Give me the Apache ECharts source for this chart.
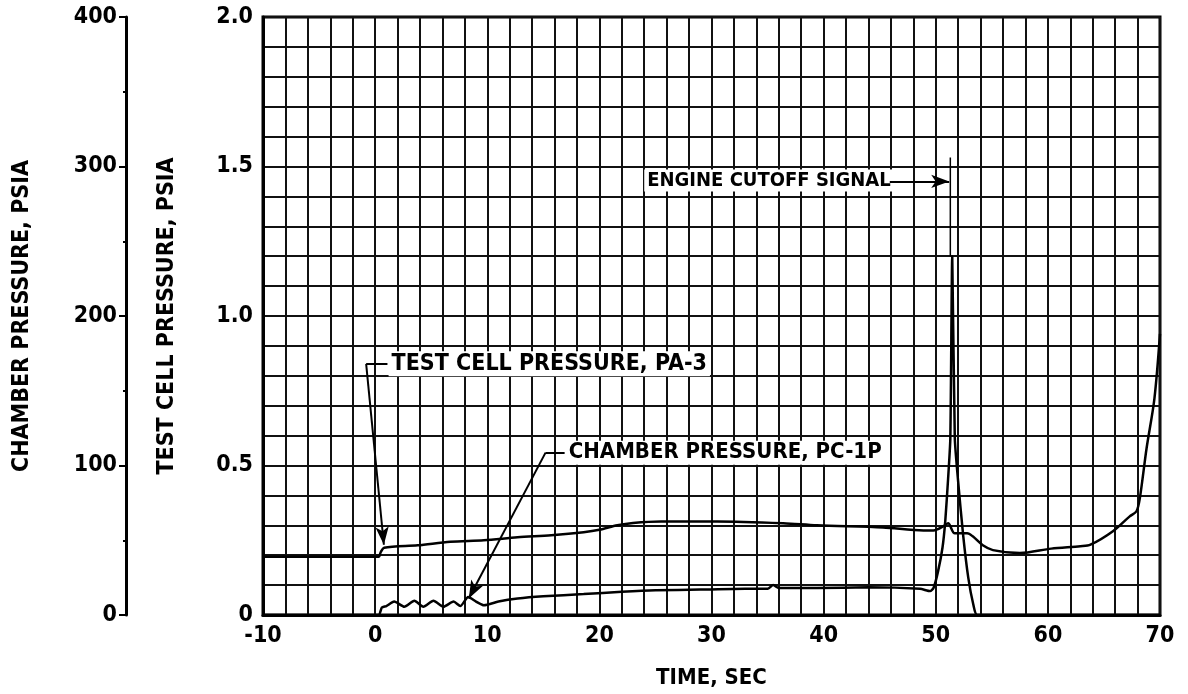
<!DOCTYPE html>
<html>
<head>
<meta charset="utf-8">
<script src="https://cdn.jsdelivr.net/npm/echarts@6/dist/echarts.min.js"></script>
<style>
  html, body { margin: 0; padding: 0; background: #fff; }
  #chart { width: 1188px; height: 694px; }
</style>
</head>
<body>
<div id="chart"></div>
<script>
// time axis, seconds
const timeTicks = [-10, 0, 10, 20, 30, 40, 50, 60, 70];
const cellTicks = ['0', '0.5', '1.0', '1.5', '2.0'];
const chamberTicks = [0, 100, 200, 300, 400];

// test cell pressure, PA-3 (psia, inner axis) as [time, value]
const testCellTime = [-10, 0.3, 0.5, 0.8, 3.8, 6.7, 9.7, 12.7, 15.7, 18.6, 20, 21.6, 23, 25.5, 30.5, 36.4, 39.4, 45.3, 48.9, 49.8, 50.7, 51.1, 51.7, 52.8, 53.3, 54.2, 55.1, 57.5, 60.3, 62.9, 63.8, 65.8, 67.3, 67.9, 68.2, 68.8, 69.5, 70];
const testCellPsia = [0.195, 0.195, 0.21, 0.225, 0.233, 0.245, 0.25, 0.26, 0.267, 0.277, 0.285, 0.3, 0.308, 0.313, 0.313, 0.307, 0.3, 0.293, 0.283, 0.283, 0.297, 0.307, 0.273, 0.273, 0.263, 0.233, 0.217, 0.207, 0.222, 0.23, 0.235, 0.28, 0.33, 0.347, 0.39, 0.557, 0.723, 0.94];

// chamber pressure, PC-1P (psia, outer axis)
const chamberTime = [-10, 0.3, 0.6, 1.0, 1.7, 2.6, 3.5, 4.3, 5.2, 6.1, 7.0, 7.6, 8.3, 9.0, 9.7, 11, 12.7, 15, 18.6, 22, 25, 29, 33, 35, 35.5, 36, 39.4, 44, 48.6, 49.5, 49.8, 50.2, 50.6, 50.85, 51.1, 51.3, 51.47, 51.7, 52.0, 52.45, 52.9, 53.35, 53.7, 70];
const chamberPsia = [0, 0, 5, 6, 9, 5.5, 9.5, 5.5, 9.5, 5.5, 9, 6, 12, 9, 6.5, 9, 11, 12.5, 14, 15.5, 16.5, 17, 17.5, 17.5, 20, 18, 18, 18.5, 17.5, 16, 18, 29, 45, 63, 91, 118, 240, 118, 89, 53, 25, 7, 0, 0];

// engine cutoff signal trace
const cutoffTime = [51.3, 51.3];
const cutoffPsia = [1.53, 1.2];

// annotation texts and their leaders (time, test cell psia)
const notes = [
  { name: 'TEST CELL PRESSURE, PA-3', at: [1.2, 0.84], size: 23 },
  { name: 'CHAMBER PRESSURE, PC-1P', at: [17.0, 0.543], size: 22 },
  { name: 'ENGINE CUTOFF SIGNAL', at: [24.0, 1.453], size: 20 }
];
const leaders = [
  { from: [1.1, 0.84], to: [-0.8, 0.84], arrow: false },
  { from: [-0.8, 0.84], to: [0.78, 0.235], arrow: true },
  { from: [16.9, 0.543], to: [15.2, 0.543], arrow: false },
  { from: [15.2, 0.543], to: [8.35, 0.055], arrow: true },
  { from: [45.9, 1.45], to: [51.2, 1.45], arrow: true }
];

const zip = (xs, ys) => xs.map((x, i) => [x, ys[i]]);
const FONT = "'Liberation Sans Narrow', 'DejaVu Sans Condensed', 'Roboto Condensed', sans-serif";
const near = (v, step) => Math.abs(v / step - Math.round(v / step)) < 1e-6;
const bold = size => ({ fontSize: size, fontWeight: 'bold', color: '#000', fontFamily: FONT });

const chart = echarts.init(document.getElementById('chart'));

const option = {
  animation: false,
  backgroundColor: '#fff',
  textStyle: { fontFamily: FONT, color: '#000' },
  grid: {
    left: 263, right: 28, top: 17, bottom: 77,
    show: true, borderColor: '#000', borderWidth: 3, backgroundColor: 'transparent'
  },
  xAxis: {
    type: 'value', min: -10, max: 70, interval: 2,
    name: 'TIME, SEC', nameLocation: 'middle', nameGap: 52,
    nameTextStyle: bold(22),
    axisLine: { onZero: false, lineStyle: { color: '#000', width: 3 } },
    axisTick: { show: false },
    axisLabel: Object.assign({
      margin: 10,
      formatter: v => (near(v, 10) && timeTicks.includes(Math.round(v))) ? String(Math.round(v)) : ''
    }, bold(23)),
    splitLine: { show: true, lineStyle: { color: '#111', width: 2 } }
  },
  yAxis: [
    {
      type: 'value', min: 0, max: 2, interval: 0.1, position: 'left',
      name: 'TEST CELL PRESSURE, PSIA', nameLocation: 'middle', nameGap: 84, nameRotate: 90,
      nameTextStyle: bold(23),
      axisLine: { show: true, onZero: false, lineStyle: { color: '#000', width: 3 } },
      axisTick: { show: false },
      axisLabel: Object.assign({
        margin: 10,
        formatter: v => near(v, 0.5) ? cellTicks[Math.round(v * 2)] : ''
      }, bold(23)),
      splitLine: { show: true, lineStyle: { color: '#111', width: 2 } }
    },
    {
      type: 'value', min: 0, max: 400, interval: 100, position: 'left', offset: 137,
      name: 'CHAMBER PRESSURE, PSIA', nameLocation: 'middle', nameGap: 92, nameRotate: 90,
      nameTextStyle: bold(23),
      axisLine: { show: true, onZero: false, lineStyle: { color: '#000', width: 3 } },
      axisTick: { show: true, length: 7, lineStyle: { color: '#000', width: 2 } },
      minorTick: { show: true, splitNumber: 2, length: 3, lineStyle: { color: '#000', width: 2 } },
      axisLabel: Object.assign({
        margin: 9,
        formatter: v => chamberTicks.includes(v) ? String(v) : ''
      }, bold(23)),
      splitLine: { show: false }
    }
  ],
  series: [
    {
      name: 'Test cell pressure, PA-3', type: 'line', yAxisIndex: 0,
      data: zip(testCellTime, testCellPsia), symbol: 'none', smooth: 0.3,
      lineStyle: { color: '#000', width: 2.5 },
      markLine: {
        silent: true, animation: false,
        label: { show: false },
        lineStyle: { color: '#000', width: 2, type: 'solid', opacity: 1 },
        data: leaders.map(l => [
          { coord: l.from, symbol: 'none' },
          { coord: l.to, symbol: l.arrow ? 'arrow' : 'none', symbolSize: [10, 18] }
        ])
      }
    },
    {
      name: 'Chamber pressure, PC-1P', type: 'line', yAxisIndex: 1,
      data: zip(chamberTime, chamberPsia), symbol: 'none', smooth: 0.2,
      lineStyle: { color: '#000', width: 2.5 }
    },
    {
      name: 'Engine cutoff signal', type: 'line', yAxisIndex: 0,
      data: zip(cutoffTime, cutoffPsia), symbol: 'none',
      lineStyle: { color: '#000', width: 1.5 }
    },
    {
      name: 'notes', type: 'scatter', yAxisIndex: 0, symbolSize: 0, silent: true,
      itemStyle: { opacity: 1 },
      data: notes.map(n => ({
        name: n.name, value: n.at,
        label: { fontSize: n.size }
      })),
      label: {
        show: true, position: 'right', distance: 0, formatter: '{b}',
        fontWeight: 'bold', color: '#000', fontFamily: FONT, opacity: 1,
        textBorderWidth: 0, backgroundColor: '#fff', padding: [1, 3, 1, 3]
      }
    }
  ]
};

chart.setOption(option);
</script>
</body>
</html>
